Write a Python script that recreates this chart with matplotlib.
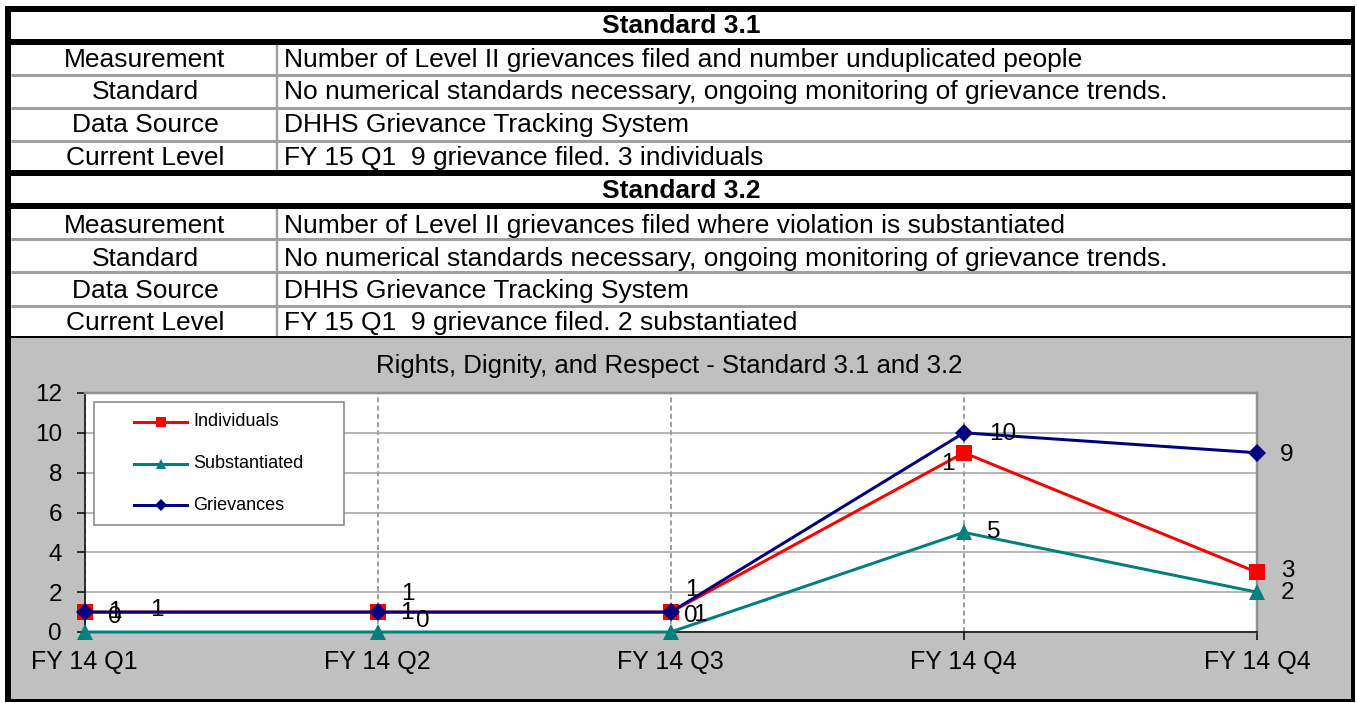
import matplotlib
matplotlib.use("Agg")
import matplotlib.pyplot as plt
from matplotlib.patches import Rectangle

plt.rcParams.update({"font.family": ["Liberation Sans", "DejaVu Sans"]})

# DATA ##########################################

section_titles = ["Standard 3.1", "Standard 3.2"]
row_labels = ["Measurement", "Standard", "Data Source", "Current Level"]
std31_text = [
    "Number of Level II grievances filed and number unduplicated people",
    "No numerical standards necessary, ongoing monitoring of grievance trends.",
    "DHHS Grievance Tracking System",
    "FY 15 Q1  9 grievance filed. 3 individuals",
]
std32_text = [
    "Number of Level II grievances filed where violation is substantiated",
    "No numerical standards necessary, ongoing monitoring of grievance trends.",
    "DHHS Grievance Tracking System",
    "FY 15 Q1  9 grievance filed. 2 substantiated",
]

chart_title = "Rights, Dignity, and Respect - Standard 3.1 and 3.2"
quarters = ["FY 14 Q1", "FY 14 Q2", "FY 14 Q3", "FY 14 Q4", "FY 14 Q4"]
individuals = [1, 1, 1, 9, 3]
substantiated = [0, 0, 0, 5, 2]
grievances = [1, 1, 1, 10, 9]

# data labels as printed in the original
individuals_lbl = ["1", "1", "1", "1", "3"]
substantiated_lbl = ["0", "0", "0", "5", "2"]
grievances_lbl = ["1", "1", "1", "10", "9"]

# LAYOUT (pixels) ###############################

W, H = 1357, 703
PT = 0.72  # px -> pt at dpi 100

# label offsets in pixels (dx, dy up) -- the original labels are scattered
ind_off = [(30, 0), (29, -1), (29, -3), (-16, -11), (31, 1)]
sub_off = [(30, 15), (45, 11), (20, 16), (30, 0), (31, -1)]
grv_off = [(72, 2), (30, 18), (21, 22), (39, -1), (30, -2)]

RED, TEAL, NAVY = "#FF0000", "#008080", "#000080"
GRID = "#A0A0A0"

fig = plt.figure(figsize=(W / 100, H / 100), dpi=100)

# background axes in pixel coords
bg = fig.add_axes([0, 0, 1, 1])
bg.set_xlim(0, W)
bg.set_ylim(H, 0)
bg.axis("off")

# TABLE #########################################

x_left, x_right, x_div = 11, 1351, 277
baselines = [33, 67, 99, 132, 165, 198, 233, 266, 298, 330]

# chart background
bg.add_patch(Rectangle((x_left, 337), x_right - x_left, 362, facecolor="#C0C0C0", edgecolor="none"))

# gray row separators
for y in [74.5, 107.5, 140.5, 238.5, 272, 305.5]:
    bg.plot([x_left, x_right], [y, y], color=GRID, lw=3 * PT, solid_capstyle="butt")
# column divider
for y0, y1 in [(45, 170), (209, 336)]:
    bg.plot([x_div, x_div], [y0, y1], color=GRID, lw=2.5 * PT, solid_capstyle="butt")

# black lines
for y, w in [(9, 6), (41.5, 6), (173, 6), (205.5, 6), (337, 2), (700, 3)]:
    bg.plot([5, 1354], [y, y], color="black", lw=w * PT, solid_capstyle="butt")
bg.plot([8, 8], [6, 702], color="black", lw=6 * PT, solid_capstyle="butt")
bg.plot([1352.5, 1352.5], [6, 702], color="black", lw=4 * PT, solid_capstyle="butt")

# texts
for i, (title, values) in enumerate([(section_titles[0], std31_text), (section_titles[1], std32_text)]):
    b = baselines[i * 5:(i + 1) * 5]
    bg.text(681, b[0], title, fontsize=19, fontweight="bold", ha="center", va="baseline")
    for j in range(4):
        bg.text(145, b[j + 1], row_labels[j], fontsize=19, ha="center", va="baseline")
        bg.text(284, b[j + 1], values[j], fontsize=19, ha="left", va="baseline")

bg.text(669, 373, chart_title, fontsize=18.5, ha="center", va="baseline")

# CHART #########################################

px_l, px_r, px_t, px_b = 84.5, 1257, 393, 632
ax = fig.add_axes([px_l / W, (H - px_b) / H, (px_r - px_l) / W, (px_b - px_t) / H])
ax.set_facecolor("white")

x = list(range(len(quarters)))
ax.set_xlim(0, len(quarters) - 1)
ax.set_ylim(0, 12)
ax.set_xticks(x)
ax.set_xticklabels(quarters, fontsize=18)
ax.set_yticks(range(0, 13, 2))
ax.tick_params(axis="y", labelsize=17.5, length=8 * PT, width=1.5 * PT, pad=10.5, direction="out")
ax.tick_params(axis="x", length=8 * PT, width=1.5 * PT, pad=7, direction="out")

ax.grid(axis="y", color=GRID, lw=1.5 * PT)
ax.grid(axis="x", color=GRID, lw=2 * PT, linestyle=(0, (2.5, 1.6)))
ax.set_axisbelow(True)

for s in ["left", "bottom"]:
    ax.spines[s].set_color("black")
    ax.spines[s].set_linewidth(1.5 * PT)
for s in ["top", "right"]:
    ax.spines[s].set_color("#909090")
    ax.spines[s].set_linewidth(2.5 * PT)

series = [
    (individuals, individuals_lbl, ind_off, RED, "s", 11, "Individuals"),
    (substantiated, substantiated_lbl, sub_off, TEAL, "^", 11, "Substantiated"),
    (grievances, grievances_lbl, grv_off, NAVY, "D", 9.5, "Grievances"),
]
for vals, lbls, offs, col, mk, ms, name in series:
    ax.plot(x, vals, color=col, lw=3 * PT, marker=mk, markersize=ms,
            markeredgewidth=0, clip_on=False, zorder=5)
    for xi, v, t, off in zip(x, vals, lbls, offs):
        ax.annotate(t, (xi, v), xytext=off, textcoords="offset pixels",
                    ha="center", va="center", fontsize=17.5, zorder=6,
                    annotation_clip=False)

# LEGEND (overlay in pixel coords) ##############

ov = fig.add_axes([0, 0, 1, 1])
ov.set_xlim(0, W)
ov.set_ylim(H, 0)
ov.axis("off")
ov.patch.set_visible(False)

ov.add_patch(Rectangle((94, 402), 250, 123, facecolor="white", edgecolor="#808080", lw=1.5 * PT))
for k, (vals, lbls, offs, col, mk, ms, name) in enumerate(series):
    yy = 422 + k * 41.5
    ov.plot([134, 187], [yy, yy], color=col, lw=3 * PT)
    ov.plot([160.5], [yy], color=col, marker=mk, markersize=ms * 0.62, markeredgewidth=0)
    ov.text(193, yy, name, fontsize=13, ha="left", va="center")

fig.savefig("out.png", dpi=100)
